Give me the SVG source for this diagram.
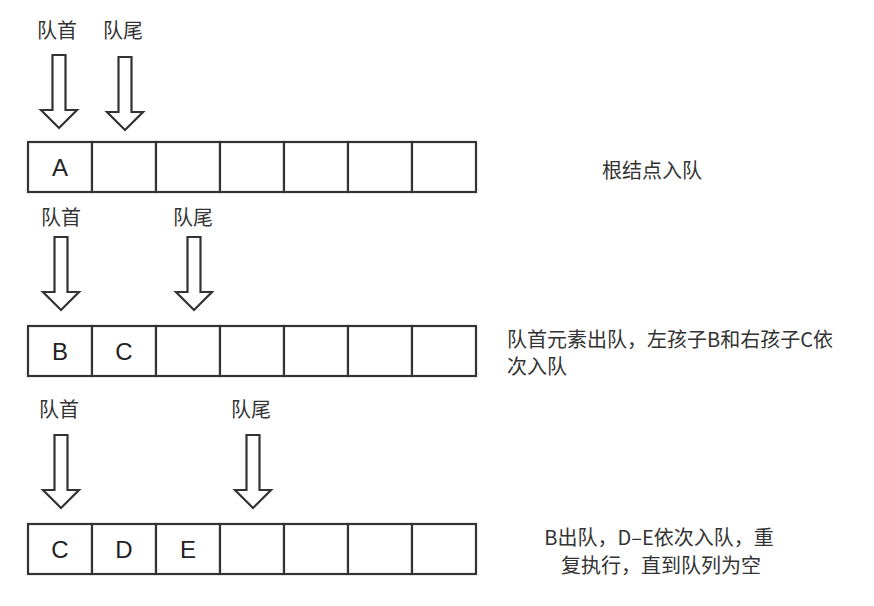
<svg xmlns="http://www.w3.org/2000/svg" width="874" height="606" viewBox="0 0 874 606">
<style>
.cell{fill:#fff;stroke:#333;stroke-width:2.2}
.arr{fill:#fff;stroke:#333;stroke-width:2.2;stroke-linejoin:miter}
.lbl{font-family:"Noto Sans CJK SC","Liberation Sans",sans-serif;font-size:20px;fill:#333}
.big{font-family:"Liberation Sans","Noto Sans CJK SC",sans-serif;font-size:24px;fill:#222;text-anchor:middle}
.note{font-family:"Noto Sans CJK SC","Liberation Sans",sans-serif;font-size:20px;fill:#333}
</style>
<defs>
<path id="ar" d="M-6.5,0 H6.5 V55 H18 L0,73 L-18,55 H-6.5 Z"/>
<g id="row">
<rect class="cell" x="0" y="0" width="64" height="50"/>
<rect class="cell" x="64" y="0" width="64" height="50"/>
<rect class="cell" x="128" y="0" width="64" height="50"/>
<rect class="cell" x="192" y="0" width="64" height="50"/>
<rect class="cell" x="256" y="0" width="64" height="50"/>
<rect class="cell" x="320" y="0" width="64" height="50"/>
<rect class="cell" x="384" y="0" width="64" height="50"/>
</g>
</defs>
<g id="queue1">
<use href="#row" x="28" y="142"/>
<text class="big" x="60" y="176">A</text>
</g>
<g id="queue2">
<use href="#row" x="28" y="326"/>
<text class="big" x="60" y="360">B</text>
<text class="big" x="124" y="360">C</text>
</g>
<g id="queue3">
<use href="#row" x="28" y="524"/>
<text class="big" x="60" y="558">C</text>
<text class="big" x="124" y="558">D</text>
<text class="big" x="188" y="558">E</text>
</g>
<g id="connectors">
<use href="#ar" class="arr" x="59" y="55"/>
<use href="#ar" class="arr" x="125" y="57"/>
<use href="#ar" class="arr" x="61" y="237"/>
<use href="#ar" class="arr" x="194" y="237"/>
<use href="#ar" class="arr" x="61" y="435"/>
<use href="#ar" class="arr" x="253" y="435"/>
</g>
<g id="labels">
<text class="lbl" x="37" y="38">队首</text>
<text class="lbl" x="103" y="38">队尾</text>
<text class="lbl" x="41" y="225">队首</text>
<text class="lbl" x="173" y="225">队尾</text>
<text class="lbl" x="39" y="417">队首</text>
<text class="lbl" x="231" y="417">队尾</text>
</g>
<g id="notes">
<text class="note" x="659" y="545" text-anchor="middle">B出队，D–E依次入队，重</text>
<text class="note" x="661" y="573" text-anchor="middle">复执行，直到队列为空</text>
<text class="note" x="602" y="178">根结点入队</text>
<text class="note" x="507" y="347">队首元素出队，左孩子B和右孩子C依</text>
<text class="note" x="507" y="374">次入队</text>
</g>
</svg>
